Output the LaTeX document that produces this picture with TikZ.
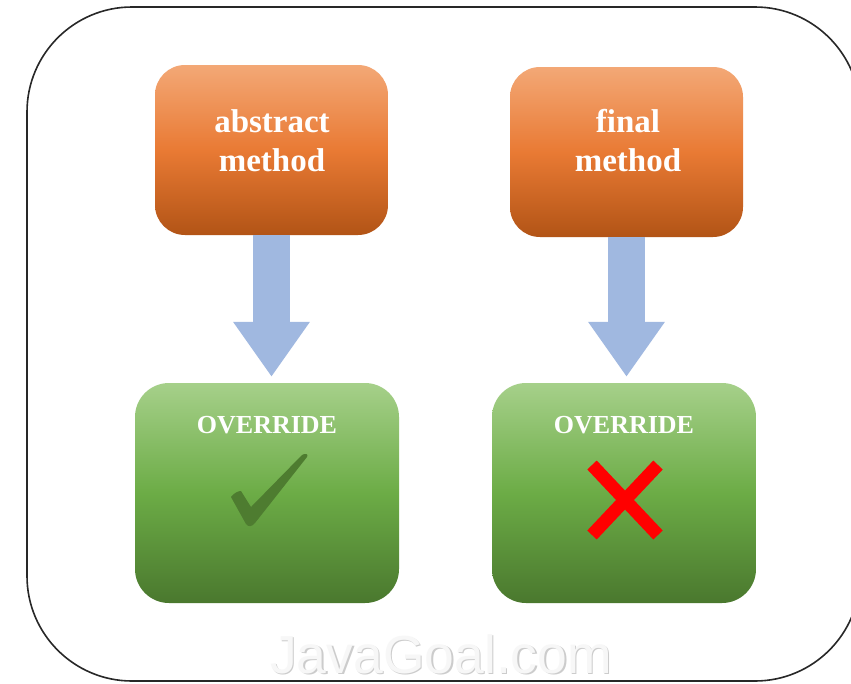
\documentclass[tikz,border=0pt]{standalone}
\usepackage{fontspec}
\setmainfont{Liberation Serif}
\newfontfamily\wmfont{Liberation Sans}
\usetikzlibrary{arrows.meta}
\definecolor{orT}{RGB}{243,168,118}
\definecolor{orM}{RGB}{233,122,52}
\definecolor{orB}{RGB}{178,84,22}
\definecolor{grT}{RGB}{166,208,138}
\definecolor{grM}{RGB}{108,172,70}
\definecolor{grB}{RGB}{74,120,46}
\definecolor{arrc}{RGB}{160,184,224}
\definecolor{checkc}{RGB}{78,124,48}
\definecolor{borderc}{RGB}{40,40,40}
\tikzset{
  orbox/.style={rectangle, rounded corners=30pt, minimum width=233pt, minimum height=170pt, inner sep=0pt,
    top color=orT, bottom color=orB, middle color=orM},
  grbox/.style={rectangle, rounded corners=34pt, minimum width=264pt, minimum height=220pt, inner sep=0pt,
    top color=grT, bottom color=grB, middle color=grM},
  ortext/.style={anchor=base, text=white, font=\fontsize{33}{39}\selectfont\bfseries, inner sep=0pt},
  ovtext/.style={anchor=base, text=white, font=\fontsize{26}{30}\selectfont\bfseries, inner sep=0pt},
  blockarrow/.style={draw=arrc, line width=37pt, -{Triangle[width=73pt,length=55pt]}, shorten >=6pt},
  border/.style={draw=borderc, line width=1.6pt, rounded corners=105pt},
  wm/.style={anchor=base, font=\fontsize{53.5}{60}\selectfont\wmfont, inner sep=0pt, text depth=0pt},
}
\begin{document}
\begin{tikzpicture}[x=1pt,y=-1pt]
\useasboundingbox (0,0) rectangle (851,683);
\clip (0,0) rectangle (851,683);
\fill[white] (0,0) rectangle (851,683);
\draw[border] (27,7) rectangle (860,681);

% boxes
\node[orbox] (abs) at (271.5,150) {};
\node[orbox] (fin) at (626.5,152) {};
\node[grbox] (ov1) at (267,493) {};
\node[grbox] (ov2) at (624,493) {};

% box texts
\node[ortext] (abs1) at (272,132) {abstract};
\node[ortext] (abs2) at (272,171) {method};
\node[ortext] (fin1) at (628,132) {final};
\node[ortext] (fin2) at (628,171) {method};
\node[ovtext] (ovt1) at (267,433) {OVERRIDE};
\node[ovtext] (ovt2) at (624,433) {OVERRIDE};

% arrows
\draw[blockarrow] (abs.south) -- (abs.south |- ov1.north);
\draw[blockarrow] (fin.south) -- (fin.south |- ov2.north);

% check mark
\fill[checkc] (231,497) .. controls (234,493) and (238,491) .. (241,491)
  -- (251,507) -- (302,455) .. controls (305,453) and (309,454) .. (307,457)
  -- (255,523) .. controls (252,527) and (248,527) .. (246,524) -- cycle;

% red cross
\draw[red, line width=13pt] (592,465) -- (658,535);
\draw[red, line width=13pt] (658,465) -- (592,535);

% watermark
\node[wm, text=gray!40] (wms) at (442.5,674.5) {JavaGoal.com};
\node[wm, text=gray!6] (wmt) at (441,673) {JavaGoal.com};
\end{tikzpicture}
\end{document}
